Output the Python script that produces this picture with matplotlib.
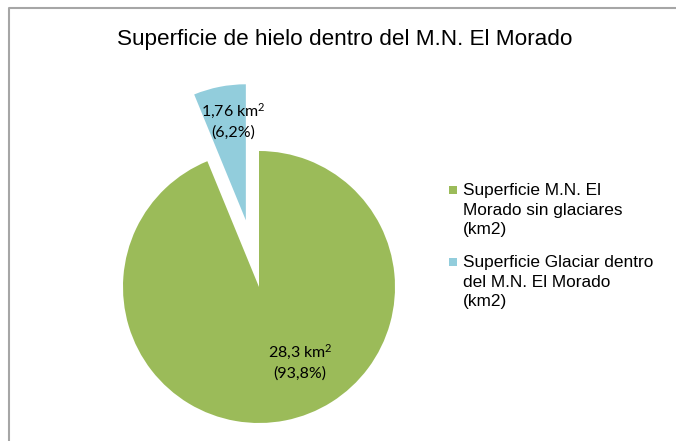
import matplotlib.pyplot as plt
from matplotlib.patches import Rectangle
from matplotlib.lines import Line2D

plt.rcParams["font.family"] = ["Liberation Sans", "DejaVu Sans"]
plt.rcParams["mathtext.fontset"] = "custom"
plt.rcParams["mathtext.rm"] = "Lato"
plt.rcParams["mathtext.it"] = "Lato"

# Data
categories = [
    "Superficie M.N. El\nMorado sin glaciares\n(km2)",
    "Superficie Glaciar dentro\ndel M.N. El Morado\n(km2)",
]
area_km2 = ["28,3", "1,76"]
share_pct = [93.8, 6.2]
colors = ["#9BBB59", "#92CDDC"]

W, H = 676, 441
fig = plt.figure(figsize=(W / 100, H / 100), dpi=100)
ax = fig.add_axes([0, 0, 1, 1])
ax.set_xlim(0, W)
ax.set_ylim(0, H)
ax.set_aspect("equal")
ax.axis("off")

# chart frame (only top and left edges show)
ax.add_line(Line2D([9, 9, W], [0, H - 8, H - 8], color="#A6A6A6", lw=1.5))

ax.text(345, H - 40, "Superficie de hielo dentro del M.N. El Morado",
        ha="center", va="center", fontsize=16.2, color="#000000")

# pie in pixel units
cx, cy, r = 259, H - 287, 136
wedges, _ = ax.pie(share_pct, colors=colors, startangle=90, counterclock=False,
                   center=(cx, cy), radius=r, explode=[0, 0.5 * r],
                   wedgeprops=dict(linewidth=0))
ax.set_xlim(0, W)
ax.set_ylim(0, H)

# data labels
label_pos = [(300, H - 362), (233, H - 121)]
for (x, y), a, p in zip(label_pos, area_km2, share_pct):
    pct = f"{p:.1f}".replace(".", ",")
    ax.text(x, y, f"{a} km$^\\mathrm{{2}}$\n({pct}%)", ha="center", va="center",
            fontsize=11.5, family=["Lato", "DejaVu Sans"], linespacing=1.4,
            color="#000000")

# legend
leg_y = [H - 190, H - 262]
for y, c, lab in zip(leg_y, colors, categories):
    ax.add_patch(Rectangle((449, y - 4), 8, 8, color=c, lw=0))
    ax.text(463, y + 7, lab, ha="left", va="top", fontsize=12.4,
            linespacing=1.39, color="#000000")

fig.savefig("out.png", dpi=100)
